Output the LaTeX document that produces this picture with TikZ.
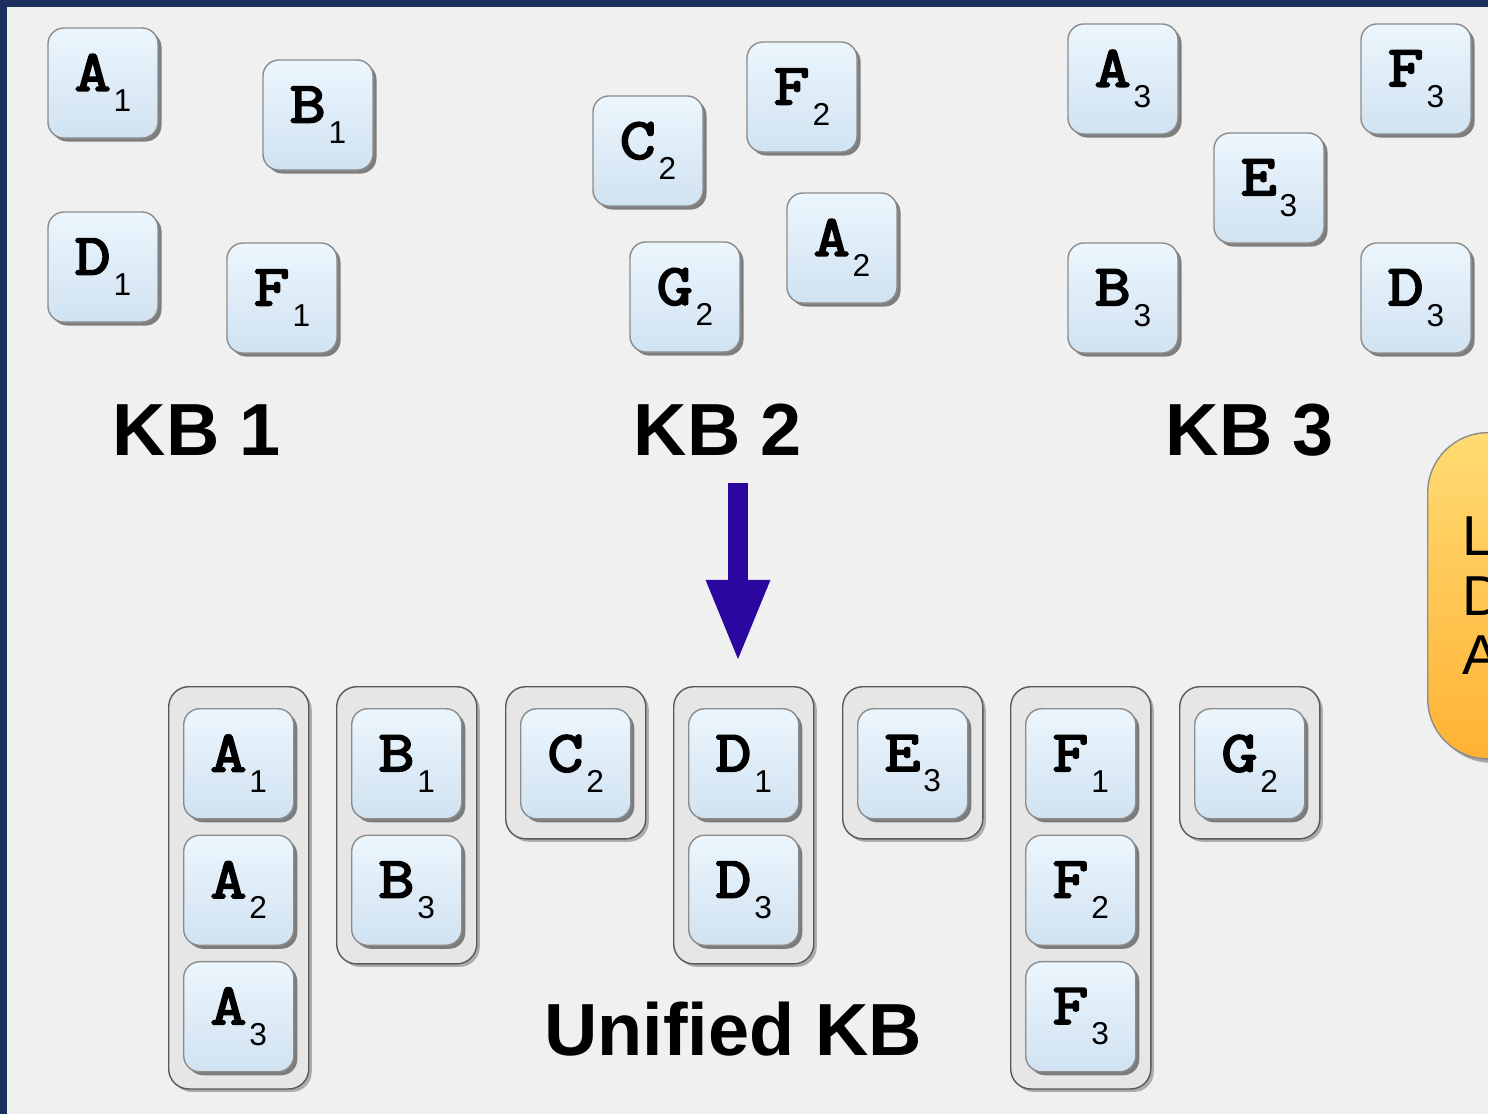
\documentclass[tikz,border=0pt]{standalone}
\usepackage{fontspec}
\setmainfont{Liberation Sans}
\newfontfamily\tilefont[FakeBold=3.5,FakeStretch=1.2]{Latin Modern Mono}
\newfontfamily\digfont{Liberation Sans}
\usetikzlibrary{positioning,arrows.meta,shadows}
\definecolor{slideblue}{RGB}{28,48,95}
\definecolor{slidegray}{RGB}{240,240,240}
\definecolor{tiletop}{RGB}{236,246,253}
\definecolor{tilebot}{RGB}{208,226,241}
\definecolor{groupfill}{RGB}{230,230,230}
\definecolor{arrowblue}{RGB}{42,8,160}
\definecolor{notetop}{RGB}{255,219,115}
\definecolor{notebot}{RGB}{255,178,52}
\newcommand{\kbitem}[2]{{\tilefont\fontsize{16.5}{16.5}\selectfont #1}\raisebox{-0.21cm}{\kern0.03cm\digfont\fontsize{9}{9}\selectfont #2}}

\begin{document}
\begin{tikzpicture}[
  x=0.01cm, y=-0.01cm,
  tile/.style={draw=black!45,rounded corners=0.16cm,minimum size=1.1cm,inner sep=0pt,
    top color=tiletop,bottom color=tilebot,
    drop shadow={shadow xshift=0.35mm,shadow yshift=-0.35mm,fill=black!65,opacity=0.75}},
  kbgroup/.style={draw=black!65,fill=groupfill,rounded corners=0.2cm,minimum width=1.4cm,anchor=north west,
    drop shadow={shadow xshift=0.3mm,shadow yshift=-0.3mm,fill=black!50,opacity=0.6}},
  kblabel/.style={font=\fontsize{21}{25}\selectfont\bfseries},
  notebox/.style={draw=black!45,rounded corners=0.6cm,top color=notetop,bottom color=notebot,
    align=left,text width=1.6cm,inner xsep=0.35cm,font=\fontsize{16}{17}\selectfont,
    drop shadow={shadow xshift=0.4mm,shadow yshift=-0.4mm,fill=black!55,opacity=0.6}},
  bigarrow/.style={-{Triangle[length=0.83cm,width=0.58cm]},line width=0.2cm,draw=arrowblue,shorten >=0.23cm}
]
\path[use as bounding box,clip] (0,0) rectangle (1488,1114);
\fill[slideblue] (0,0) rectangle (1488,1114);
\fill[slidegray] (7,7) rectangle (1488,1114);

% KB 1
\node[tile] (a1) at (103,83) {\kbitem{A}{1}};
\node[tile] (b1) at (318,115) {\kbitem{B}{1}};
\node[tile] (d1) at (103,267) {\kbitem{D}{1}};
\node[tile] (f1) at (282,298) {\kbitem{F}{1}};
\node[kblabel] (kb1) at (197,430) {KB 1};

% KB 2
\node[tile] (c2) at (648,151) {\kbitem{C}{2}};
\node[tile] (f2) at (802,97) {\kbitem{F}{2}};
\node[tile] (a2) at (842,248) {\kbitem{A}{2}};
\node[tile] (g2) at (685,297) {\kbitem{G}{2}};
\node[kblabel] (kb2) at (718,430) {KB 2};

% KB 3
\node[tile] (a3) at (1123,79) {\kbitem{A}{3}};
\node[tile] (f3) at (1416,79) {\kbitem{F}{3}};
\node[tile] (e3) at (1269,188) {\kbitem{E}{3}};
\node[tile] (b3) at (1123,298) {\kbitem{B}{3}};
\node[tile] (d3) at (1416,298) {\kbitem{D}{3}};
\node[kblabel] (kb3) at (1250,430) {KB 3};

\node[notebox,anchor=north west,minimum height=3.26cm] (note) at (1427,432) {L\\D\\A};

% unified KB
\node[kbgroup,minimum height=4.02cm] (ga) at (168,686) {};
\node[tile,below=0.22cm of ga.north] (ua1) {\kbitem{A}{1}};
\node[tile,below=0.15cm of ua1] (ua2) {\kbitem{A}{2}};
\node[tile,below=0.15cm of ua2] (ua3) {\kbitem{A}{3}};

\node[kbgroup,minimum height=2.77cm] (gb) at (336,686) {};
\node[tile,below=0.22cm of gb.north] (ub1) {\kbitem{B}{1}};
\node[tile,below=0.15cm of ub1] (ub3) {\kbitem{B}{3}};

\node[kbgroup,minimum height=1.52cm] (gc) at (505,686) {};
\node[tile,below=0.22cm of gc.north] (uc2) {\kbitem{C}{2}};

\node[kbgroup,minimum height=2.77cm] (gd) at (673,686) {};
\node[tile,below=0.22cm of gd.north] (ud1) {\kbitem{D}{1}};
\node[tile,below=0.15cm of ud1] (ud3) {\kbitem{D}{3}};

\node[kbgroup,minimum height=1.52cm] (ge) at (842,686) {};
\node[tile,below=0.22cm of ge.north] (ue3) {\kbitem{E}{3}};

\node[kbgroup,minimum height=4.02cm] (gf) at (1010,686) {};
\node[tile,below=0.22cm of gf.north] (uf1) {\kbitem{F}{1}};
\node[tile,below=0.15cm of uf1] (uf2) {\kbitem{F}{2}};
\node[tile,below=0.15cm of uf2] (uf3) {\kbitem{F}{3}};

\node[kbgroup,minimum height=1.52cm] (gg) at (1179,686) {};
\node[tile,below=0.22cm of gg.north] (ug2) {\kbitem{G}{2}};

\node[kblabel] (unified) at (733,1029) {Unified KB};

\coordinate (arrtop) at (738,483);
\draw[bigarrow] (arrtop) -- (arrtop |- gd.north);
\end{tikzpicture}
\end{document}
